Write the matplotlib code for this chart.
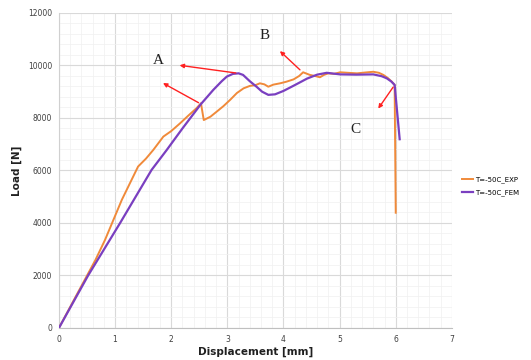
import matplotlib
matplotlib.use("Agg")
import matplotlib.pyplot as plt
from matplotlib.ticker import MultipleLocator

# Data
exp_x = [0, 0.3, 0.65, 0.82, 1.12, 1.41, 1.55, 1.68, 1.86, 2.0, 2.16, 2.30, 2.45, 2.53,
         2.58, 2.70, 2.81, 2.93, 3.05, 3.17, 3.29, 3.40, 3.50, 3.58, 3.66, 3.73, 3.82,
         3.94, 4.05, 4.18, 4.28, 4.35, 4.47, 4.56, 4.65, 4.72, 4.80, 4.90, 5.01, 5.15,
         5.31, 5.45, 5.60, 5.70, 5.78, 5.86, 5.93, 5.98, 6.00]
exp_y = [0, 1200, 2590, 3350, 4880, 6150, 6450, 6780, 7290, 7500, 7800, 8080, 8370, 8560,
         7920, 8050, 8240, 8450, 8690, 8950, 9130, 9220, 9250, 9320, 9280, 9190, 9270,
         9320, 9380, 9470, 9600, 9740, 9640, 9600, 9550, 9640, 9700, 9680, 9740, 9720,
         9700, 9730, 9760, 9720, 9640, 9520, 9380, 9260, 4390]

fem_x = [0, 0.52, 1.09, 1.65, 1.92, 2.20, 2.53, 2.75, 2.90, 2.99, 3.10, 3.20, 3.28, 3.40,
         3.52, 3.62, 3.73, 3.85, 4.00, 4.20, 4.42, 4.60, 4.77, 5.01, 5.30, 5.60, 5.75,
         5.84, 5.92, 5.98, 6.07]
fem_y = [0, 2000, 4000, 6020, 6780, 7600, 8530, 9070, 9400, 9575, 9680, 9700, 9640, 9400,
         9190, 9000, 8880, 8900, 9030, 9250, 9500, 9650, 9720, 9660, 9650, 9660, 9590,
         9510, 9390, 9260, 7190]

series_labels = ["T=-50C_EXP", "T=-50C_FEM"]
x_ticks = [0, 1, 2, 3, 4, 5, 6, 7]
y_ticks = [0, 2000, 4000, 6000, 8000, 10000, 12000]

orange = "#F08A3A"
purple = "#7A3FC0"

fig = plt.figure(figsize=(5.31, 3.60), dpi=100)
ax = fig.add_axes([0.111, 0.089, 0.740, 0.875])

ax.plot(exp_x, exp_y, color=orange, lw=1.4, label=series_labels[0], zorder=3)
ax.plot(fem_x, fem_y, color=purple, lw=1.6, label=series_labels[1], zorder=4)

ax.set_xlim(0, 7)
ax.set_ylim(0, 12000)
ax.set_xticks(x_ticks)
ax.set_yticks(y_ticks)
ax.xaxis.set_minor_locator(MultipleLocator(0.2))
ax.yaxis.set_minor_locator(MultipleLocator(400))
ax.grid(which="major", color="#d9d9d9", lw=0.8, zorder=0)
ax.grid(which="minor", color="#f0f0f0", lw=0.5, zorder=0)
ax.set_axisbelow(True)
for s in ["top", "right"]:
    ax.spines[s].set_visible(False)
ax.spines["left"].set_color("#d0d0d0")
ax.spines["bottom"].set_color("#bfbfbf")
ax.tick_params(which="both", length=0, labelsize=5.5, labelcolor="#404040", pad=5)

ax.set_xlabel("Displacement [mm]", fontsize=7.5, fontweight="bold", labelpad=2,
              color="#202020")
ax.set_ylabel("Load [N]", fontsize=7.5, fontweight="bold", labelpad=4, color="#202020")

# Annotations
akw = dict(arrowstyle="-|>", color="#ff2020", lw=1.0, mutation_scale=6)
ax.annotate("", xy=(2.10, 10020), xytext=(3.20, 9700), arrowprops=akw, zorder=5)
ax.annotate("", xy=(1.81, 9380), xytext=(2.53, 8530), arrowprops=akw, zorder=5)
ax.annotate("", xy=(3.90, 10620), xytext=(4.33, 9760), arrowprops=akw, zorder=5)
ax.annotate("", xy=(5.66, 8270), xytext=(5.98, 9257), arrowprops=akw, zorder=5)
tkw = dict(fontsize=11, family="Liberation Serif", color="#202020", ha="center", va="center")
ax.text(1.77, 10180, "A", **tkw)
ax.text(3.67, 11160, "B", **tkw)
ax.text(5.28, 7570, "C", **tkw)

leg = ax.legend(loc="center left", bbox_to_anchor=(1.01, 0.45), frameon=False,
                fontsize=5, handlelength=1.6, handletextpad=0.3, labelspacing=0.9)

fig.savefig("out.png", dpi=100)
